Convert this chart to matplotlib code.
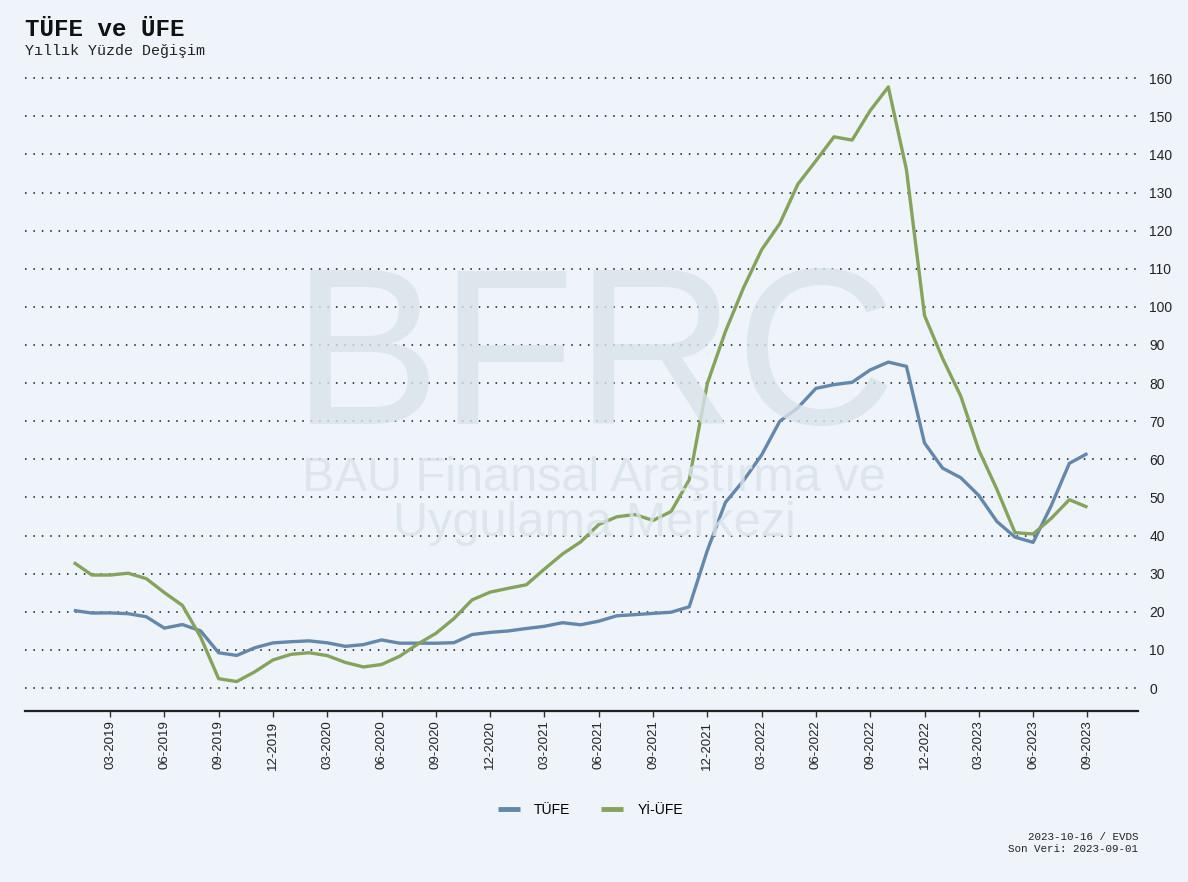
import matplotlib
matplotlib.use("Agg")
import matplotlib.pyplot as plt
import numpy as np

months = [f"{m:02d}-{y}" for y in range(2019, 2024) for m in range(1, 13)][:57]

tufe = [20.35, 19.67, 19.71, 19.50, 18.71, 15.72, 16.65, 15.01, 9.26, 8.55, 10.56, 11.84,
        12.15, 12.37, 11.86, 10.94, 11.39, 12.62, 11.76, 11.77, 11.75, 11.89, 14.03, 14.60,
        14.97, 15.61, 16.19, 17.14, 16.59, 17.53, 18.95, 19.25, 19.58, 19.89, 21.31, 36.08,
        48.69, 54.44, 61.14, 69.97, 73.50, 78.62, 79.60, 80.21, 83.45, 85.51, 84.39, 64.27,
        57.68, 55.18, 50.51, 43.68, 39.59, 38.21, 47.83, 58.94, 61.53]

yiufe = [32.93, 29.64, 29.64, 30.12, 28.71, 25.04, 21.66, 13.45, 2.45, 1.70, 4.26, 7.36,
         8.84, 9.26, 8.50, 6.71, 5.53, 6.17, 8.33, 11.53, 14.33, 18.20, 23.11, 25.15,
         26.16, 27.09, 31.20, 35.17, 38.33, 42.89, 44.92, 45.52, 43.96, 46.31, 54.62, 79.89,
         93.53, 105.01, 114.97, 121.82, 132.16, 138.31, 144.61, 143.75, 151.50, 157.69, 136.02, 97.72,
         86.46, 76.61, 62.43, 52.11, 40.76, 40.42, 44.50, 49.41, 47.44]

series_names = ["TÜFE", "Yİ-ÜFE"]
tick_labels = [m for m in months if m[:2] in ("03", "06", "09", "12")]
y_ticks = list(range(0, 170, 10))

bg = "#eef4f9"
c_blue = "#6488ab"
c_green = "#86a35c"

fig = plt.figure(figsize=(11.88, 8.82), dpi=100, facecolor=bg)
ax = fig.add_axes([0.021, 0.194, 0.937, 0.739], facecolor=bg)

# watermark
wm = "#d9e2ea"
fig.text(0.50, 0.585, "BFRC", fontsize=160, color=wm, ha="center", va="center",
         family="Liberation Sans", zorder=0, alpha=0.8)
fig.text(0.50, 0.432, "BAU Finansal Araştırma ve\nUygulama Merkezi", fontsize=35, color=wm,
         ha="center", va="center", family="Liberation Sans", zorder=0, alpha=0.8,
         linespacing=1.02)

x = np.arange(len(months))
ax.plot(x, tufe, color=c_blue, lw=2.4, label=series_names[0], solid_capstyle="butt", zorder=3)
ax.plot(x, yiufe, color=c_green, lw=2.4, label=series_names[1], solid_capstyle="butt", zorder=3)

ax.set_xlim(-2.7, 58.8)
ax.set_ylim(-6, 165)

tick_pos = [months.index(t) for t in tick_labels]
ax.set_xticks(tick_pos)
ax.set_xticklabels(tick_labels, rotation=90, fontsize=9.5, family="Liberation Sans", color="#222222")
ax.tick_params(axis="x", length=4, width=1, color="#333333", pad=3)

ax.yaxis.tick_right()
ax.set_yticks(y_ticks)
ax.set_yticklabels([str(v) for v in y_ticks], fontsize=10, family="Liberation Sans", color="#222222")
ax.tick_params(axis="y", length=0, pad=8)
ax.grid(axis="y", color="#111111", linestyle=(0, (1, 4.5)), linewidth=1.1)
ax.set_axisbelow(True)

for s in ["top", "right", "left"]:
    ax.spines[s].set_visible(False)
ax.spines["bottom"].set_color("#222222")
ax.spines["bottom"].set_linewidth(1.6)

leg = fig.legend(loc="center", bbox_to_anchor=(0.497, 0.082), ncol=2, frameon=False,
                 prop={"family": "Liberation Sans", "size": 10}, handlelength=1.6,
                 columnspacing=2.2, handletextpad=1.0)
for h in leg.get_lines():
    h.set_linewidth(3.5)

fig.text(0.021, 0.980, "TÜFE ve ÜFE", fontsize=17.4, fontweight="bold", family="Liberation Mono",
         ha="left", va="top", color="#111111")
fig.text(0.021, 0.950, "Yıllık Yüzde Değişim", fontsize=10.8, family="Liberation Mono",
         ha="left", va="top", color="#222222")

fig.text(0.958, 0.044, "2023-10-16 / EVDS\nSon Veri: 2023-09-01", fontsize=7.8,
         family="Liberation Mono", ha="right", va="center", color="#222222", linespacing=1.2)

fig.savefig("out.png", dpi=100, facecolor=bg)
